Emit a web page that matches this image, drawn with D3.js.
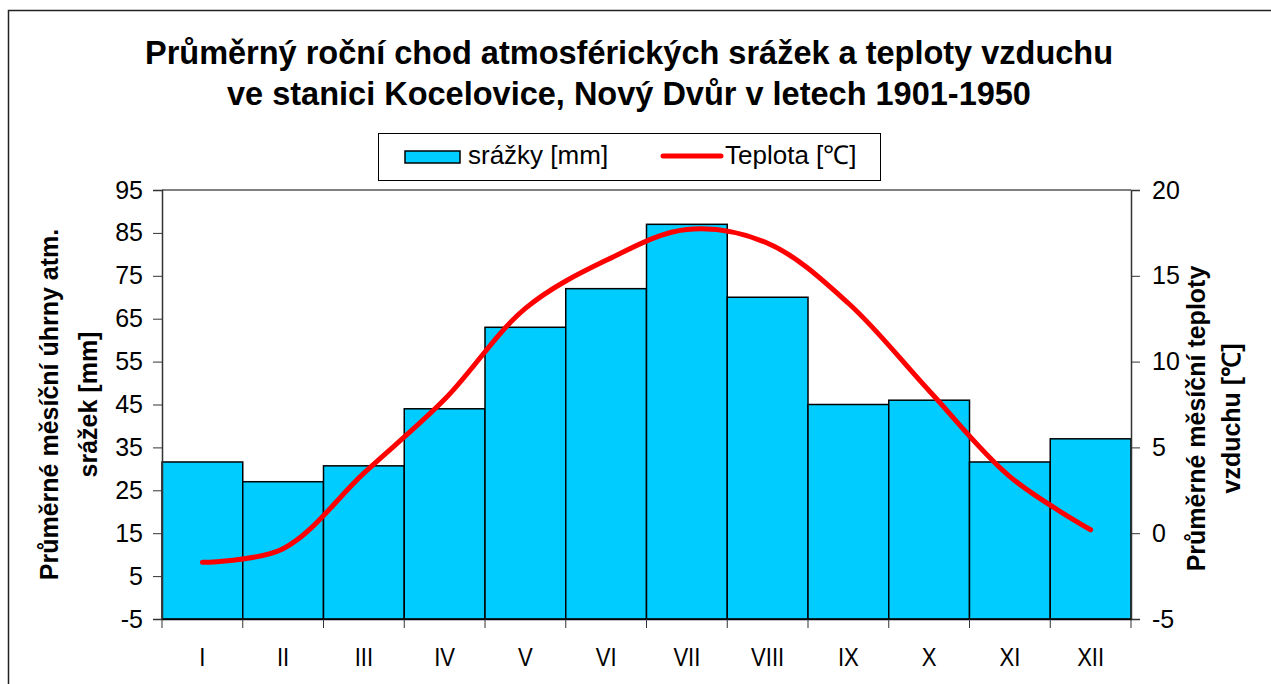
<!DOCTYPE html>
<html>
<head>
<meta charset="utf-8">
<script src="https://cdn.jsdelivr.net/npm/d3@7"></script>
<style>
    body { margin: 0; background: #fff; }
    text { font-family: "Liberation Sans", Arial, sans-serif; fill: #000; }
</style>
</head>
<body>
<div id="chart"></div>
<script>
var months = ["I", "II", "III", "IV", "V", "VI", "VII", "VIII", "IX", "X", "XI", "XII"];
var srazky = [31.6, 27, 30.7, 44, 63, 72, 87, 70, 45, 46, 31.6, 37];
var teplota = [-1.7, -0.9, 3.5, 7.8, 13.1, 15.9, 17.7, 16.9, 13.4, 8.3, 3.3, 0.2];
var leftTicks = [-5, 5, 15, 25, 35, 45, 55, 65, 75, 85, 95];
var rightTicks = [-5, 0, 5, 10, 15, 20];
var titleLines = ["Průměrný roční chod atmosférických srážek a teploty vzduchu",
    "ve stanici Kocelovice, Nový Dvůr v letech 1901-1950"];
var leftTitle = ["Průměrné měsíční úhrny atm.", "srážek [mm]"];
var rightTitle = ["Průměrné měsíční teploty", "vzduchu [\u2103]"];

var width = 1271,
    height = 684,
    plot = { left: 162, right: 1131, top: 190, bottom: 619 };

var svg = d3.select("#chart").append("svg")
    .attr("width", width)
    .attr("height", height);

svg.append("rect")
    .attr("width", width).attr("height", height)
    .attr("fill", "#fff");

// outer chart border (runs off the right/bottom edge like the original)
svg.append("rect")
    .attr("x", 8.5).attr("y", 10.5)
    .attr("width", 1300).attr("height", 700)
    .attr("fill", "none")
    .attr("stroke", "#222")
    .attr("stroke-width", 1.5);

var x = d3.scaleBand()
    .domain(months)
    .range([plot.left, plot.right])
    .paddingInner(0).paddingOuter(0);

var yL = d3.scaleLinear().domain([-5, 95]).range([plot.bottom, plot.top]);
var yR = d3.scaleLinear().domain([-5, 20]).range([plot.bottom, plot.top]);

// plot area top edge
svg.append("line")
    .attr("x1", plot.left).attr("x2", plot.right)
    .attr("y1", plot.top).attr("y2", plot.top)
    .attr("stroke", "#808080").attr("stroke-width", 2);

// bars
svg.append("g").selectAll("rect")
    .data(srazky)
    .join("rect")
    .attr("x", function(d, i) { return x(months[i]); })
    .attr("y", function(d) { return yL(d); })
    .attr("width", x.bandwidth())
    .attr("height", function(d) { return yL(-5) - yL(d); })
    .attr("fill", "#00CCFF")
    .attr("stroke", "#000")
    .attr("stroke-width", 1.5);

// axes (plain hyphen for negatives, as in the original)
var plain = function(d) { return String(d); };
var axisL = svg.append("g")
    .attr("transform", "translate(" + plot.left + ",0)")
    .call(d3.axisLeft(yL).tickValues(leftTicks).tickFormat(plain).tickSize(9).tickPadding(10));
var axisR = svg.append("g")
    .attr("transform", "translate(" + plot.right + ",0)")
    .call(d3.axisRight(yR).tickValues(rightTicks).tickFormat(plain).tickSize(9).tickPadding(12));
var axisB = svg.append("g")
    .attr("transform", "translate(0," + plot.bottom + ")")
    .call(d3.axisBottom(x).tickSize(0).tickPadding(0));

[axisL, axisR].forEach(function(a) {
    a.select(".domain").attr("stroke", "#333").attr("stroke-width", 1.5);
    a.selectAll(".tick line").attr("stroke", "#333");
    a.selectAll(".tick text")
        .style("font-size", "25px")
        .attr("fill", "#000");
});
axisR.selectAll(".tick text").attr("text-anchor", "start");

axisB.select(".domain").attr("stroke", "#000").attr("stroke-width", 1.5);
axisB.selectAll(".tick text")
    .attr("y", 0).attr("dy", 0)
    .attr("transform", function() { return "translate(0,47) scale(0.85,1)"; })
    .style("font-size", "26px");

// category boundary ticks
svg.append("g").selectAll("line")
    .data(months.concat(["end"]))
    .join("line")
    .attr("x1", function(d, i) { return i < months.length ? x(d) : plot.right; })
    .attr("x2", function(d, i) { return i < months.length ? x(d) : plot.right; })
    .attr("y1", plot.bottom).attr("y2", plot.bottom + 9)
    .attr("stroke", "#333");

// temperature line
var line = d3.line()
    .x(function(d, i) { return x(months[i]) + x.bandwidth() / 2; })
    .y(function(d) { return yR(d); })
    .curve(d3.curveCatmullRom.alpha(0.5));

svg.append("path")
    .datum(teplota)
    .attr("d", line)
    .attr("fill", "none")
    .attr("stroke", "#FF0000")
    .attr("stroke-width", 5)
    .attr("stroke-linecap", "round")
    .attr("stroke-linejoin", "round");

// title
svg.append("g").selectAll("text")
    .data(titleLines)
    .join("text")
    .attr("x", 629)
    .attr("y", function(d, i) { return 64 + i * 41; })
    .attr("text-anchor", "middle")
    .style("font-size", "32.5px")
    .style("font-weight", "bold")
    .text(function(d) { return d; });

// legend
var legend = svg.append("g");
legend.append("rect")
    .attr("x", 378.5).attr("y", 133.5)
    .attr("width", 502).attr("height", 47)
    .attr("fill", "#fff").attr("stroke", "#000");
legend.append("rect")
    .attr("x", 405).attr("y", 151)
    .attr("width", 55).attr("height", 12)
    .attr("fill", "#00CCFF").attr("stroke", "#000").attr("stroke-width", 1.5);
legend.append("text")
    .attr("x", 468).attr("y", 164)
    .style("font-size", "26px")
    .text("srážky [mm]");
legend.append("line")
    .attr("x1", 663).attr("x2", 721)
    .attr("y1", 156).attr("y2", 156)
    .attr("stroke", "#FF0000").attr("stroke-width", 5)
    .attr("stroke-linecap", "round");
legend.append("text")
    .attr("x", 725).attr("y", 164)
    .style("font-size", "26px")
    .text("Teplota [\u2103]");

// axis titles
var midL = (plot.top + plot.bottom) / 2;
svg.append("g").selectAll("text")
    .data(leftTitle)
    .join("text")
    .attr("transform", function(d, i) { return "translate(" + (58 + i * 39) + "," + midL + ") rotate(-90)"; })
    .attr("text-anchor", "middle")
    .style("font-size", "25px")
    .style("font-weight", "bold")
    .text(function(d) { return d; });

svg.append("g").selectAll("text")
    .data(rightTitle)
    .join("text")
    .attr("transform", function(d, i) { return "translate(" + (1205 + i * 35) + "," + (midL + 14) + ") rotate(-90)"; })
    .attr("text-anchor", "middle")
    .style("font-size", "25px")
    .style("font-weight", "bold")
    .text(function(d) { return d; });
</script>
</body>
</html>
